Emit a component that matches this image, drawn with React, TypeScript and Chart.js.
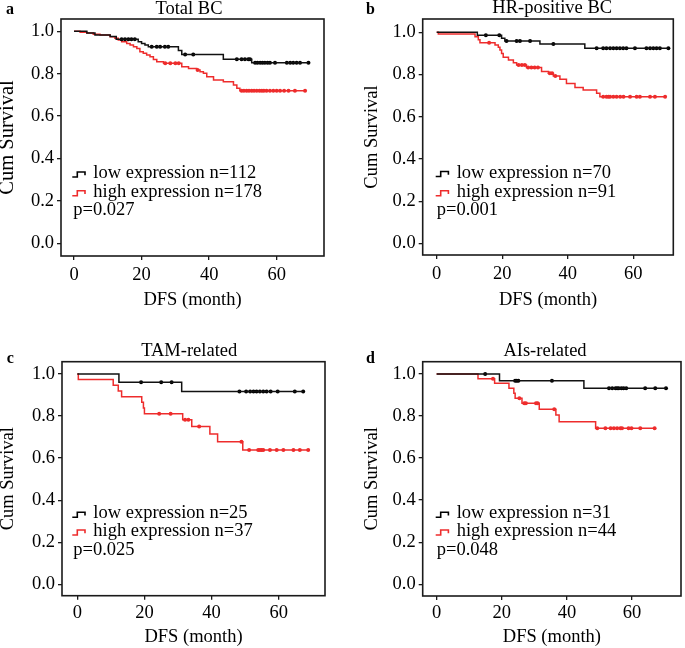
import React, { useEffect, useRef } from 'react';
import { Chart, registerables } from 'chart.js';

Chart.register(...registerables);

const FONT = "'Liberation Serif', 'Times New Roman', serif";
const BLACK = '#000000';
const RED = '#ee2c2c';

const X_TICKS = [0, 20, 40, 60];
const Y_TICKS = [0, 0.2, 0.4, 0.6, 0.8, 1.0];

// ---------- Panel a: Total BC ----------
const A_LOW_T = [3.8, 6.2, 10.7, 12.5, 19.0, 20.0, 21.0, 22.0, 30.9, 31.9, 44.2, 52.6];
const A_LOW_S = [0.992, 0.983, 0.975, 0.963, 0.951, 0.943, 0.935, 0.927, 0.909, 0.891, 0.868, 0.852];
const A_LOW_C = [14.1, 15.1, 16.1, 17.0, 18.0, 23.0, 24.5, 25.5, 26.9, 27.9, 32.9, 35.3, 48.2, 49.6, 50.6, 51.6, 52.1, 53.6, 54.3, 55.1, 55.8, 56.5, 57.3, 58.0, 59.5, 63.0, 64.0, 64.9, 65.9, 66.9, 69.4];
const A_HIGH_T = [1.8, 3.8, 5.7, 7.7, 10.7, 12.1, 13.1, 14.1, 15.6, 16.6, 17.6, 18.6, 19.5, 20.5, 21.5, 22.5, 23.5, 24.5, 26.5, 31.9, 33.9, 36.3, 37.3, 38.3, 39.3, 41.3, 44.2, 47.2, 48.2, 49.1];
const A_HIGH_S = [0.995, 0.992, 0.986, 0.982, 0.974, 0.967, 0.959, 0.951, 0.943, 0.935, 0.927, 0.919, 0.904, 0.896, 0.888, 0.880, 0.867, 0.856, 0.849, 0.833, 0.825, 0.817, 0.809, 0.802, 0.786, 0.770, 0.762, 0.747, 0.731, 0.720];
const A_HIGH_C = [27.0, 28.5, 30.0, 31.0, 36.6, 49.6, 50.3, 51.1, 51.8, 52.6, 53.3, 54.1, 54.9, 55.6, 56.2, 57.0, 58.0, 59.0, 60.0, 61.0, 62.2, 63.5, 65.4, 68.4];

// ---------- Panel b: HR-positive BC ----------
const B_LOW_T = [12.4, 19.8, 20.8, 31.5, 45.2];
const B_LOW_S = [0.986, 0.972, 0.959, 0.945, 0.924];
const B_LOW_C = [15.0, 19.1, 21.3, 24.4, 25.4, 28.5, 35.6, 48.8, 50.8, 51.8, 52.9, 53.9, 54.9, 55.9, 56.9, 57.9, 60.5, 64.0, 65.1, 66.1, 67.1, 68.1, 70.7];
const B_HIGH_T = [0.5, 11.7, 12.7, 13.2, 17.8, 18.8, 19.3, 19.8, 20.3, 21.9, 23.4, 24.4, 27.4, 32.0, 34.1, 35.6, 37.6, 39.6, 42.2, 44.7, 48.8, 49.8];
const B_HIGH_S = [0.992, 0.979, 0.965, 0.951, 0.940, 0.929, 0.916, 0.900, 0.882, 0.869, 0.856, 0.845, 0.833, 0.814, 0.806, 0.793, 0.777, 0.758, 0.739, 0.727, 0.711, 0.695];
const B_HIGH_C = [16.0, 25.0, 26.0, 26.9, 27.9, 28.9, 29.9, 30.9, 34.5, 35.2, 36.2, 50.8, 51.8, 52.4, 52.9, 53.9, 54.9, 56.0, 57.0, 59.0, 61.0, 62.0, 65.1, 66.6, 69.7];

// ---------- Panel c: TAM-related ----------
const C_LOW_T = [12.4, 31.1];
const C_LOW_S = [0.960, 0.916];
const C_LOW_C = [19.0, 25.0, 28.1, 48.3, 50.3, 51.5, 52.5, 53.4, 54.4, 55.4, 56.4, 57.6, 59.7, 64.8, 67.3];
const C_HIGH_T = [0.3, 10.7, 12.2, 13.2, 19.2, 19.7, 20.0, 31.4, 34.1, 39.5, 41.8, 49.3];
const C_HIGH_S = [0.973, 0.946, 0.919, 0.892, 0.865, 0.838, 0.811, 0.782, 0.750, 0.714, 0.678, 0.638];
const C_HIGH_C = [24.4, 27.8, 32.1, 33.1, 36.3, 48.9, 51.2, 53.9, 54.4, 54.9, 55.4, 57.4, 59.4, 61.4, 64.4, 66.3, 68.8];

// ---------- Panel d: AIs-related ----------
const D_LOW_T = [19.3, 45.2];
const D_LOW_S = [0.968, 0.932];
const D_LOW_C = [14.9, 24.1, 24.6, 25.1, 35.4, 52.9, 53.9, 54.9, 55.4, 55.9, 56.7, 57.4, 58.2, 64.0, 67.1, 70.4];
const D_HIGH_T = [12.7, 17.8, 22.2, 23.7, 24.1, 26.2, 31.5, 36.6, 37.6, 48.8];
const D_HIGH_S = [0.977, 0.955, 0.932, 0.908, 0.884, 0.861, 0.832, 0.805, 0.773, 0.742];
const D_HIGH_C = [17.3, 25.4, 26.9, 27.4, 30.5, 31.0, 36.1, 49.3, 51.8, 53.4, 54.4, 55.4, 56.4, 56.9, 58.9, 59.8, 62.5, 66.9];

type Series = { t: number[]; s: number[]; c: number[] };

function survAt(t: number[], s: number[], x: number) {
  let v = 1;
  for (let i = 0; i < t.length; i++) if (t[i] <= x) v = s[i];
  return v;
}

function stepPoints(ser: Series) {
  const end = Math.max(ser.t[ser.t.length - 1], ...ser.c);
  const pts = [{ x: 0, y: 1 }];
  ser.t.forEach((ti, i) => pts.push({ x: ti, y: ser.s[i] }));
  pts.push({ x: end, y: ser.s[ser.s.length - 1] });
  return pts;
}

function censorPoints(ser: Series) {
  return ser.c.map((x) => ({ x, y: survAt(ser.t, ser.s, x) }));
}

type PanelCfg = {
  left: number; top: number; W: number; H: number;
  L: number; R: number; T: number; B: number;
  xmin: number; xmax: number; ymin: number; ymax: number;
  title: string; titleX: number; titleY: number;
  letter: string; letterX: number; letterY: number;
  legendX: number; rows: number[]; pX: number; pY: number;
  lowLabel: string; highLabel: string; pLabel: string;
  yTitleSize: number; yTitleLH: number; yTitlePad: number;
  xTitlePad: number; xTickPad: number;
  low: Series; high: Series;
};

const PANELS: PanelCfg[] = [
  {
    left: 0, top: 0, W: 340, H: 320, L: 61, R: 324, T: 19, B: 256,
    xmin: -3.85, xmax: 74, ymin: -0.06, ymax: 1.058,
    title: 'Total BC', titleX: 189, titleY: 13.5,
    letter: 'a', letterX: 6, letterY: 13.5,
    legendX: 93.3, rows: [178, 196.7], pX: 73.3, pY: 214.5,
    lowLabel: 'low expression n=112', highLabel: 'high expression n=178', pLabel: 'p=0.027',
    yTitleSize: 20.5, yTitleLH: 0.7, yTitlePad: 0, xTitlePad: 10.5, xTickPad: 4,
    low: { t: A_LOW_T, s: A_LOW_S, c: A_LOW_C },
    high: { t: A_HIGH_T, s: A_HIGH_S, c: A_HIGH_C },
  },
  {
    left: 340, top: 0, W: 345, H: 320, L: 82.7, R: 333.3, T: 19, B: 255,
    xmin: -4.27, xmax: 72.2, ymin: -0.055, ymax: 1.063,
    title: 'HR-positive BC', titleX: 212.2, titleY: 13,
    letter: 'b', letterX: 26, letterY: 13.5,
    legendX: 116.7, rows: [177.5, 196.7], pX: 96.7, pY: 214.5,
    lowLabel: 'low expression n=70', highLabel: 'high expression n=91', pLabel: 'p=0.001',
    yTitleSize: 18.5, yTitleLH: 1, yTitlePad: 23, xTitlePad: 10.5, xTickPad: 4,
    low: { t: B_LOW_T, s: B_LOW_S, c: B_LOW_C },
    high: { t: B_HIGH_T, s: B_HIGH_S, c: B_HIGH_C },
  },
  {
    left: 0, top: 320, W: 340, H: 328, L: 62, R: 325, T: 41.7, B: 275.7,
    xmin: -4.56, xmax: 73.8, ymin: -0.054, ymax: 1.058,
    title: 'TAM-related', titleX: 189.2, titleY: 36.3,
    letter: 'c', letterX: 6.7, letterY: 43.3,
    legendX: 93.3, rows: [198.3, 216], pX: 73.3, pY: 235,
    lowLabel: 'low expression n=25', highLabel: 'high expression n=37', pLabel: 'p=0.025',
    yTitleSize: 18.5, yTitleLH: 0.8, yTitlePad: 0.3, xTitlePad: 1.5, xTickPad: 2.5,
    low: { t: C_LOW_T, s: C_LOW_S, c: C_LOW_C },
    high: { t: C_HIGH_T, s: C_HIGH_S, c: C_HIGH_C },
  },
  {
    left: 340, top: 320, W: 345, H: 328, L: 82.7, R: 342.7, T: 41.7, B: 276,
    xmin: -4.27, xmax: 75, ymin: -0.056, ymax: 1.058,
    title: 'AIs-related', titleX: 205, titleY: 36.3,
    letter: 'd', letterX: 26, letterY: 43.3,
    legendX: 116.7, rows: [198.3, 216], pX: 96.7, pY: 235,
    lowLabel: 'low expression n=31', highLabel: 'high expression n=44', pLabel: 'p=0.048',
    yTitleSize: 18.5, yTitleLH: 1, yTitlePad: 23, xTitlePad: 1.5, xTickPad: 2.5,
    low: { t: D_LOW_T, s: D_LOW_S, c: D_LOW_C },
    high: { t: D_HIGH_T, s: D_HIGH_S, c: D_HIGH_C },
  },
];

function makeDecor(cfg: PanelCfg) {
  return {
    id: 'decor',
    afterDraw(chart: any) {
      const ctx = chart.ctx as CanvasRenderingContext2D;
      const { left, top, right, bottom } = chart.chartArea;
      ctx.save();
      ctx.strokeStyle = '#1a1a1a';
      ctx.lineWidth = 1.6;
      ctx.strokeRect(left, top, right - left, bottom - top);

      ctx.fillStyle = BLACK;
      ctx.textBaseline = 'alphabetic';
      ctx.font = `18.5px ${FONT}`;
      ctx.textAlign = 'center';
      ctx.fillText(cfg.title, cfg.titleX, cfg.titleY);

      ctx.font = `bold 16px ${FONT}`;
      ctx.textAlign = 'left';
      ctx.fillText(cfg.letter, cfg.letterX, cfg.letterY);

      ctx.font = `18.5px ${FONT}`;
      const labels = [cfg.lowLabel, cfg.highLabel];
      const colors = [BLACK, RED];
      labels.forEach((lab, i) => {
        const base = cfg.rows[i];
        const l = cfg.legendX - 21;
        const b = base - 1;
        ctx.strokeStyle = colors[i];
        ctx.lineWidth = 1.6;
        ctx.beginPath();
        ctx.moveTo(l, b);
        ctx.lineTo(l + 5, b);
        ctx.lineTo(l + 5, b - 5);
        ctx.lineTo(l + 12.7, b - 5);
        ctx.lineTo(l + 12.7, b - 1.7);
        ctx.stroke();
        ctx.fillStyle = BLACK;
        ctx.fillText(lab, cfg.legendX, base);
      });
      ctx.fillText(cfg.pLabel, cfg.pX, cfg.pY);
      ctx.restore();
    },
  };
}

function Panel({ cfg }: { cfg: PanelCfg }) {
  const ref = useRef<HTMLCanvasElement>(null);
  useEffect(() => {
    const canvas = ref.current;
    if (!canvas) return;
    const tickFont = { family: FONT, size: 18.5, lineHeight: 1.2 };
    const chart = new Chart(canvas, {
      type: 'line',
      data: {
        datasets: [
          { data: stepPoints(cfg.low), stepped: 'before', borderColor: '#111111', borderWidth: 1.5, pointRadius: 0, fill: false },
          { data: censorPoints(cfg.low), showLine: false, pointRadius: 2, pointBackgroundColor: BLACK, pointBorderColor: BLACK, pointBorderWidth: 0 },
          { data: stepPoints(cfg.high), stepped: 'before', borderColor: RED, borderWidth: 1.5, pointRadius: 0, fill: false },
          { data: censorPoints(cfg.high), showLine: false, pointRadius: 2, pointBackgroundColor: RED, pointBorderColor: RED, pointBorderWidth: 0 },
        ] as any,
      },
      options: {
        animation: false,
        responsive: false,
        layout: { padding: { left: 0, top: cfg.T, right: cfg.W - cfg.R, bottom: 0 } },
        plugins: { legend: { display: false }, tooltip: { enabled: false }, title: { display: false } },
        scales: {
          x: {
            type: 'linear', min: cfg.xmin, max: cfg.xmax,
            afterFit: (s: any) => { s.height = cfg.H - cfg.B; },
            afterBuildTicks: (s: any) => { s.ticks = X_TICKS.map((v) => ({ value: v })); },
            grid: { drawOnChartArea: false, drawTicks: true, tickLength: 4, color: '#1a1a1a', lineWidth: 1.3 },
            border: { display: false },
            ticks: { font: tickFont, color: BLACK, padding: cfg.xTickPad, maxRotation: 0, autoSkip: false },
            title: { display: true, text: 'DFS (month)', color: BLACK, font: { family: FONT, size: 18.5, lineHeight: 1 }, padding: { top: 0, bottom: cfg.xTitlePad } },
          },
          y: {
            type: 'linear', min: cfg.ymin, max: cfg.ymax,
            afterFit: (s: any) => { s.width = cfg.L; },
            afterBuildTicks: (s: any) => { s.ticks = Y_TICKS.map((v) => ({ value: v })); },
            grid: { drawOnChartArea: false, drawTicks: true, tickLength: 4, color: '#1a1a1a', lineWidth: 1.3 },
            border: { display: false },
            ticks: { font: tickFont, color: BLACK, padding: 3, autoSkip: false, callback: (v: any) => Number(v).toFixed(1) },
            title: { display: true, text: 'Cum Survival', color: BLACK, font: { family: FONT, size: cfg.yTitleSize, lineHeight: cfg.yTitleLH }, padding: { top: cfg.yTitlePad, bottom: 0 } },
          },
        },
      } as any,
      plugins: [makeDecor(cfg)],
    });
    return () => chart.destroy();
  }, [cfg]);
  return (
    <canvas
      ref={ref}
      width={cfg.W}
      height={cfg.H}
      style={{ position: 'absolute', left: cfg.left, top: cfg.top, width: cfg.W, height: cfg.H }}
    />
  );
}

export default function App() {
  return (
    <div style={{ position: 'absolute', left: 0, top: 0, width: 685, height: 648, background: '#ffffff' }}>
      {PANELS.map((p) => (
        <Panel key={p.letter} cfg={p} />
      ))}
    </div>
  );
}
